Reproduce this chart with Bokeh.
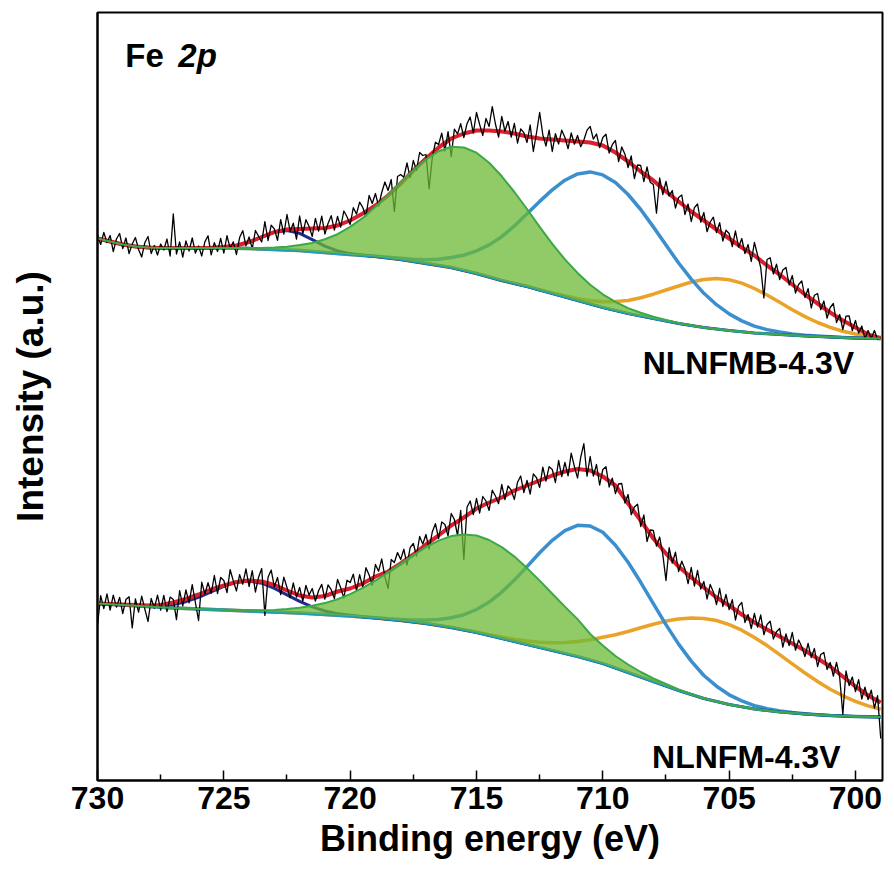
import numpy as np
from bokeh.plotting import figure
from bokeh.models import Range1d, FixedTicker, Label
from bokeh.embed import file_html
from bokeh.resources import INLINE

# ---------------- data ----------------
energy = [730.0, 729.5, 729.0, 728.5, 728.0, 727.5, 727.0, 726.5, 726.0, 725.5, 725.0, 724.5,
          724.0, 723.5, 723.0, 722.5, 722.0, 721.5, 721.0, 720.5, 720.0, 719.5, 719.0, 718.5,
          718.0, 717.5, 717.0, 716.5, 716.0, 715.5, 715.0, 714.5, 714.0, 713.5, 713.0, 712.5,
          712.0, 711.5, 711.0, 710.5, 710.0, 709.5, 709.0, 708.5, 708.0, 707.5, 707.0, 706.5,
          706.0, 705.5, 705.0, 704.5, 704.0, 703.5, 703.0, 702.5, 702.0, 701.5, 701.0, 700.5,
          700.0, 699.5, 699.0]

# NLNFMB-4.3V (upper spectrum)
top_background = [542, 539, 536, 534, 533, 532.5, 532.5, 532.5, 532.5, 532.5, 532.5, 532.3, 532, 531.5, 531,
                  530.5, 530, 529, 528, 527, 526, 525, 524, 522.5, 521, 519, 517, 515, 513, 510, 507, 503.5,
                  500, 497, 494, 490.5, 487, 483.5, 480, 476.5, 473, 470, 467, 464.5, 462, 459.5, 457, 455,
                  453, 451.5, 450, 448.7, 447.5, 446.7, 446, 445.2, 444.5, 444, 443.5, 443, 442.5, 442.2, 442]
top_envelope = [542, 539, 536, 534, 533, 532.5, 532.5, 532.5, 532.5, 532.7, 533.4, 535, 538.5, 543.5, 548.5,
                551, 551.5, 552, 552.5, 555, 560, 567, 575, 585, 597, 610, 622, 633, 642, 647, 650, 650, 649,
                647, 644, 642, 641, 640, 639, 638, 635, 628, 619, 609, 600, 589, 579, 569, 560, 551, 542, 533,
                525, 515, 506, 496, 486, 477, 468, 460, 453, 446, 442]
top_green = [542, 539, 536, 534, 533, 532.5, 532.5, 532.5, 532.5, 532.5, 532.5, 532.6, 532.6, 532.6, 532.9,
             533.8, 535.4, 537.6, 541.2, 546.3, 553.6, 562.6, 573.7, 585.7, 598.5, 610.5, 621.2, 629.3, 633.8,
             633, 627.8, 617.8, 604.2, 588.5, 571.5, 553.7, 536.7, 521.1, 507.6, 495.8, 486.2, 478.6, 472.4,
             467.8, 463.9, 460.6, 457.6, 455.3, 453, 451.5, 450, 448.7, 447.5, 446.7, 446, 445.2, 444.5, 444,
             443.5, 443, 442.5, 442.2, 442]
top_blue = [542, 539, 536, 534, 533, 532.5, 532.5, 532.5, 532.5, 532.5, 532.5, 532.3, 532, 531.5, 531, 530.5,
            530, 529, 528, 527, 526, 525.2, 524.3, 523.2, 522.2, 521.2, 520.8, 521.3, 523, 525.3, 529.6, 535.6,
            543.8, 554.6, 566.8, 579.1, 590.6, 600.3, 606.6, 608.6, 605.6, 598.1, 586, 571, 553.6, 535.4,
            517.5, 501.4, 487.2, 475.8, 466.6, 459.6, 454.4, 450.9, 448.5, 446.6, 445.3, 444.4, 443.7, 443,
            442.5, 442.2, 442]
top_orange = [542, 539, 536, 534, 533, 532.5, 532.5, 532.5, 532.5, 532.5, 532.5, 532.3, 532, 531.5, 531, 530.5,
              530, 529, 528, 527, 526, 525, 524, 522.5, 521, 519, 517, 515, 513, 510, 507, 503.5, 500, 497,
              494.2, 490.8, 487.6, 484.7, 482.1, 480.1, 478.8, 478.9, 480, 482.7, 486.3, 490.5, 494.5, 498.5,
              501, 502.1, 500.8, 497.4, 492, 485.5, 478.3, 470.8, 463.9, 458, 453.1, 449.3, 446.5, 444.6, 443.3]
top_navy = [542, 539, 536, 534, 533, 532.5, 532.5, 532.5, 532.5, 532.7, 533.4, 534.9, 538.3, 543.3, 548.2, 550,
            547.2, 540.8, 534.3, 529.6, 526.9, 525.2, 524, 522.5, 521, 519, 517, 515, 513, 510, 507, 503.5, 500,
            497, 494, 490.5, 487, 483.5, 480, 476.5, 473, 470, 467, 464.5, 462, 459.5, 457, 455, 453, 451.5,
            450, 448.7, 447.5, 446.7, 446, 445.2, 444.5, 444, 443.5, 443, 442.5, 442.2, 442]

# NLNFM-4.3V (lower spectrum)
bottom_background = [177, 176.2, 175.5, 174.7, 174, 173.2, 172.5, 172, 171.5, 171, 170.5, 170, 169.5, 169, 168.5,
                     168, 167.5, 166.8, 166, 165.2, 164.5, 163.5, 162.5, 161.3, 160, 158.5, 157, 155, 153, 150.5,
                     148, 145, 142, 139, 136, 133, 130, 127, 124, 120.5, 117, 112.5, 108, 103.5, 99, 94.5, 90, 86,
                     82, 79, 76, 73.7, 71.5, 70, 68.5, 67.5, 66.5, 65.7, 65, 64.5, 64, 63.7, 63.5]
bottom_envelope = [177, 176.5, 176, 175.5, 175, 175.5, 178, 181.5, 186, 191, 195, 198.5, 200, 199, 195.5, 190,
                   185, 183, 184.5, 189, 192, 197, 204, 209, 217, 226, 236, 245, 255, 263, 272, 278, 283, 290,
                   295, 300, 305, 309, 311.5, 310, 304, 295, 277, 260, 242, 227, 214, 203, 193, 183, 175, 166,
                   158, 151, 144, 137, 130, 122, 114, 104, 94, 85, 78]
bottom_green = [177, 176.2, 175.5, 174.7, 174, 173.2, 172.5, 172, 171.5, 171, 170.8, 170.5, 170.3, 170.3, 170.6,
                171.4, 172.7, 174.7, 177.4, 181.3, 186.4, 192.6, 199.9, 208.2, 216.8, 225.4, 233.4, 239.9, 244.4,
                246, 245, 240.5, 233.4, 223.9, 212.4, 199.9, 186.8, 173.9, 161.4, 146.5, 135, 124.5, 116, 108.5,
                102, 96.5, 91, 86.5, 82.2, 79, 76, 73.7, 71.5, 70, 68.5, 67.5, 66.5, 65.7, 65, 64.5, 64, 63.7, 63.5]
bottom_blue = [177, 176.2, 175.5, 174.7, 174, 173.2, 172.5, 172, 171.5, 171, 170.5, 170, 169.5, 169, 168.5, 168,
               167.5, 166.8, 166, 165.2, 164.5, 163.5, 162.7, 161.8, 161, 160.4, 160.4, 160.9, 162.7, 165.8, 171,
               178.4, 188.4, 200.4, 213.9, 227.7, 240.2, 249.8, 255.2, 254.5, 248.2, 235.3, 218.2, 198.2, 176.9,
               155.9, 136.4, 119.4, 105, 94.3, 85.7, 79.6, 74.9, 71.9, 69.5, 68, 66.8, 65.8, 65, 64.5, 64, 63.7, 63.5]
bottom_orange = [177, 176.2, 175.5, 174.7, 174, 173.2, 172.5, 172, 171.5, 171, 170.5, 170, 169.5, 169, 168.5, 168,
                 167.5, 166.8, 166, 165.2, 164.5, 163.5, 162.5, 161.3, 160, 158.5, 157, 155, 153, 150.8, 148.5,
                 145.9, 143.5, 141.3, 139.6, 138.3, 137.7, 137.9, 139.1, 140.7, 143.3, 145.8, 149, 152.7, 156.3,
                 159.4, 161.4, 162.6, 161.9, 160, 155.9, 150.3, 142.9, 134.9, 125.8, 116.7, 107.5, 99, 91.3, 84.7,
                 79.1, 74.6, 71.2]
bottom_navy = [177, 176.2, 175.5, 174.9, 174.7, 174.8, 176, 178.8, 183.1, 188.6, 194.1, 198.3, 199.5, 197.3, 192.1,
               185.6, 179.1, 173.6, 169.5, 166.8, 165.2, 163.7, 162.5, 161.3, 160, 158.5, 157, 155, 153, 150.5, 148,
               145, 142, 139, 136, 133, 130, 127, 124, 120.5, 117, 112.5, 108, 103.5, 99, 94.5, 90, 86, 82, 79, 76,
               73.7, 71.5, 70, 68.5, 67.5, 66.5, 65.7, 65, 64.5, 64, 63.7, 63.5]

# measured counts, 0.125 eV step from 730 to 699 eV
raw_energy = np.linspace(730.0, 699.0, 249)
top_counts = [
    545, 536, 548, 538, 545, 529, 541.5, 547, 532, 542.5, 527, 536.5, 543, 531, 523.5, 538,
    544, 527, 535, 525.5, 536.5, 530.5, 541.5, 524.5, 566.5, 526.5, 538.5, 523.5, 539.5, 529.5, 542.5, 527.5,
    534.5, 524.5, 538.6, 544.7, 525.7, 537.9, 529, 542.2, 527.4, 544.8, 532.2, 538.6, 526, 542.9, 549.8, 534.6,
    543.5, 531.8, 550, 544.3, 538.5, 558.8, 540, 555.3, 551.5, 540.1, 560.8, 546.4, 566, 549.1, 557.3, 541.4,
    564.5, 546.6, 560.8, 553.9, 544, 562.1, 549.3, 564.4, 546.5, 557.1, 564.8, 550.4, 564, 553.3, 569.5, 563.8,
    556, 572.8, 566.5, 578.3, 573, 564, 585, 577, 587, 574.5, 588, 598.5, 590, 601, 569, 604,
    606, 603.3, 617.5, 602.8, 620, 610, 628, 625, 626, 591.8, 622.5, 638.3, 636, 647.3, 629.5, 648.8,
    624, 651.3, 646.5, 656.8, 643, 656.8, 663.5, 647.3, 668, 656, 645, 662, 654, 673.8, 656.5, 643.3,
    664, 649.5, 659, 643.5, 657, 637.3, 651.5, 647.8, 638, 655.5, 629, 647.5, 668, 645.8, 634.5, 650.3,
    629, 646.8, 636.5, 650.3, 643, 631.8, 647.5, 636.3, 645, 633.8, 640.5, 650.3, 654, 641.3, 646.5, 632.8,
    643, 646.3, 627.5, 635.8, 640, 618.8, 633.5, 626.3, 613, 624.5, 602, 615.5, 615, 598.8, 613.5, 598.3,
    596, 567.3, 602.5, 585.8, 599, 584.5, 590, 572.5, 583, 585.5, 566, 576.5, 559, 572.8, 576.5, 558.3,
    568, 548.8, 558.5, 563.3, 548, 557.8, 539.5, 550.3, 547, 533.8, 549.5, 533.3, 542, 527, 536, 519,
    538, 525.5, 513, 482.5, 521, 522.8, 506.5, 516.3, 501, 510.5, 513, 495.5, 505, 487.5, 496, 499.5,
    483, 491.8, 472.5, 485.3, 487, 470.8, 479.5, 462.3, 473, 477, 458, 466, 451, 464.3, 464.5, 449.8,
    460, 447.3, 454.5, 441.8, 450, 442, 450, 441, 443]
bottom_counts = [
    155, 184.9, 171.8, 186.6, 170.5, 185.4, 173.3, 183.1, 167, 180.9, 183.8, 152.6, 181.5, 168.4, 184.3, 171.1,
    159, 182.1, 172.3, 185.4, 170.5, 185.1, 168.8, 183.4, 181, 160.9, 189.8, 174.6, 190.5, 177.6, 195.8, 177.9,
    160, 198.3, 186.5, 197.8, 187, 205, 187, 203, 200, 187.9, 210.8, 199.6, 189.5, 205.9, 196.3, 211.6,
    194, 209.8, 188.5, 203.3, 212, 165.1, 203.3, 210.4, 193.5, 203.1, 185.8, 203.4, 193, 182.8, 197.5, 183.3,
    193, 179.5, 195, 185.5, 192, 179.4, 189.8, 196.1, 181.5, 195.6, 190.8, 181.9, 201, 192.8, 182.5, 200.3,
    198, 206.3, 189.5, 205.8, 193, 212.8, 205.5, 195.3, 216, 209.3, 221.5, 203.8, 192, 221, 218, 228,
    221, 231.3, 215.5, 232.8, 237, 224.5, 244, 236.5, 246, 231.3, 248.5, 256.8, 242, 258.5, 256, 244.5,
    267, 261, 245, 270, 221, 273.3, 279.5, 265.8, 282, 267.5, 284, 279.5, 270, 290.3, 284.5, 276.8,
    296, 280.8, 294.5, 290.3, 281, 298.3, 304.5, 287.8, 300, 286.3, 306.5, 302.8, 293, 313.3, 299.5, 313.8,
    311, 298, 320, 304, 318, 304.6, 327.3, 313.9, 302.5, 323.1, 336.8, 304.4, 324, 304.5, 316, 295.5,
    311, 313.8, 293.5, 302.3, 287, 296.5, 297, 277.5, 286, 265.8, 273.5, 276.3, 254, 265.5, 239, 250.5,
    250, 234.3, 243.5, 225.8, 200, 232.8, 217.5, 228.3, 209, 219.3, 211.5, 196.8, 213, 194.5, 210, 191.5,
    199, 181.5, 196, 188.5, 176, 192, 174, 186, 171, 180.8, 160.5, 174.3, 178, 158, 166, 152,
    167, 153.3, 165.5, 145.8, 156, 159.3, 141.5, 148.8, 152, 133.3, 146.5, 134.8, 148, 130.3, 140.5, 133.8,
    124, 137, 123, 132, 114, 126, 128, 111, 118, 104.5, 118, 103.5, 66, 109.5, 95, 103.5,
    89, 100.8, 81.5, 93.3, 81, 90.3, 72.5, 84.8, 42]

x_major_ticks = [730, 725, 720, 715, 710, 705, 700]
x_minor_ticks = [727.5, 722.5, 717.5, 712.5, 707.5, 702.5]

# ---------------- styles ----------------
FONT = "Liberation Sans"
C_RED = "#DC1F2E"
C_BLUE = "#3B8FCF"
C_ORANGE = "#EBA228"
C_NAVY = "#1E2A8C"
C_BG = "#1E9DB4"
C_FILL = "#6BBA36"
C_GREEN_EDGE = "#3DA848"

p = figure(frame_width=785, frame_height=768,
           x_range=Range1d(730, 698.93), y_range=Range1d(0, 768),
           output_backend="svg", toolbar_location=None,
           min_border_left=97, min_border_right=8, min_border_top=12, min_border_bottom=90)

p.background_fill_color = "white"
p.border_fill_color = "white"
p.outline_line_color = "black"
p.outline_line_width = 2
p.grid.visible = False

xa = p.xaxis[0]
xa.ticker = FixedTicker(ticks=x_major_ticks, minor_ticks=x_minor_ticks)
xa.axis_line_width = 2
xa.major_tick_in = 10
xa.major_tick_out = 0
xa.minor_tick_in = 6
xa.minor_tick_out = 0
xa.major_tick_line_width = 1.5
xa.minor_tick_line_width = 1.5
xa.major_label_text_font = FONT
xa.major_label_text_font_style = "bold"
xa.major_label_text_font_size = "32px"
xa.major_label_text_color = "black"
xa.major_label_standoff = 6
xa.axis_label = "Binding energy (eV)"
xa.axis_label_text_font = FONT
xa.axis_label_text_font_style = "bold"
xa.axis_label_text_font_size = "36px"
xa.axis_label_text_color = "black"
xa.axis_label_standoff = 6

ya = p.yaxis[0]
ya.ticker = FixedTicker(ticks=[])
ya.axis_line_width = 2
ya.major_tick_line_color = None
ya.minor_tick_line_color = None
ya.major_label_standoff = 0
ya.axis_label = "Intensity (a.u.)"
ya.axis_label_text_font = FONT
ya.axis_label_text_font_style = "bold"
ya.axis_label_text_font_size = "37px"
ya.axis_label_text_color = "black"
ya.axis_label_standoff = 47


def spectrum(bg, env, green, blue, orange, navy, counts):
    p.line(energy, orange, line_color=C_ORANGE, line_width=3.5, line_join="round")
    p.line(energy, blue, line_color=C_BLUE, line_width=3.5, line_join="round")
    p.line(energy, navy, line_color=C_NAVY, line_width=3, line_join="round")
    p.line(energy, bg, line_color=C_BG, line_width=2.5, line_join="round")
    p.line(energy, env, line_color=C_RED, line_width=4, line_join="round")
    p.line(raw_energy, counts, line_color="black", line_width=1.3, line_join="round")
    p.varea(x=energy, y1=bg, y2=green, fill_color=C_FILL, fill_alpha=0.75)
    p.line(energy, green, line_color=C_GREEN_EDGE, line_width=2, line_join="round")


spectrum(top_background, top_envelope, top_green, top_blue, top_orange, top_navy, top_counts)
spectrum(bottom_background, bottom_envelope, bottom_green, bottom_blue, bottom_orange, bottom_navy, bottom_counts)

p.add_layout(Label(x=728.9, y=725, text="Fe", text_font=FONT, text_font_style="bold",
                   text_font_size="33px", text_color="black", text_baseline="alphabetic"))
p.add_layout(Label(x=726.8, y=725, text="2p", text_font=FONT, text_font_style="bold italic",
                   text_font_size="33px", text_color="black", text_baseline="alphabetic"))
p.add_layout(Label(x=700.05, y=418, text="NLNFMB-4.3V", text_font=FONT, text_font_style="bold",
                   text_font_size="32px", text_color="black", text_align="right",
                   text_baseline="alphabetic"))
p.add_layout(Label(x=708.05, y=24, text="NLNFM-4.3V", text_font=FONT, text_font_style="bold",
                   text_font_size="32px", text_color="black", text_align="left",
                   text_baseline="alphabetic"))

open("out.html", "w").write(file_html(p, INLINE))
